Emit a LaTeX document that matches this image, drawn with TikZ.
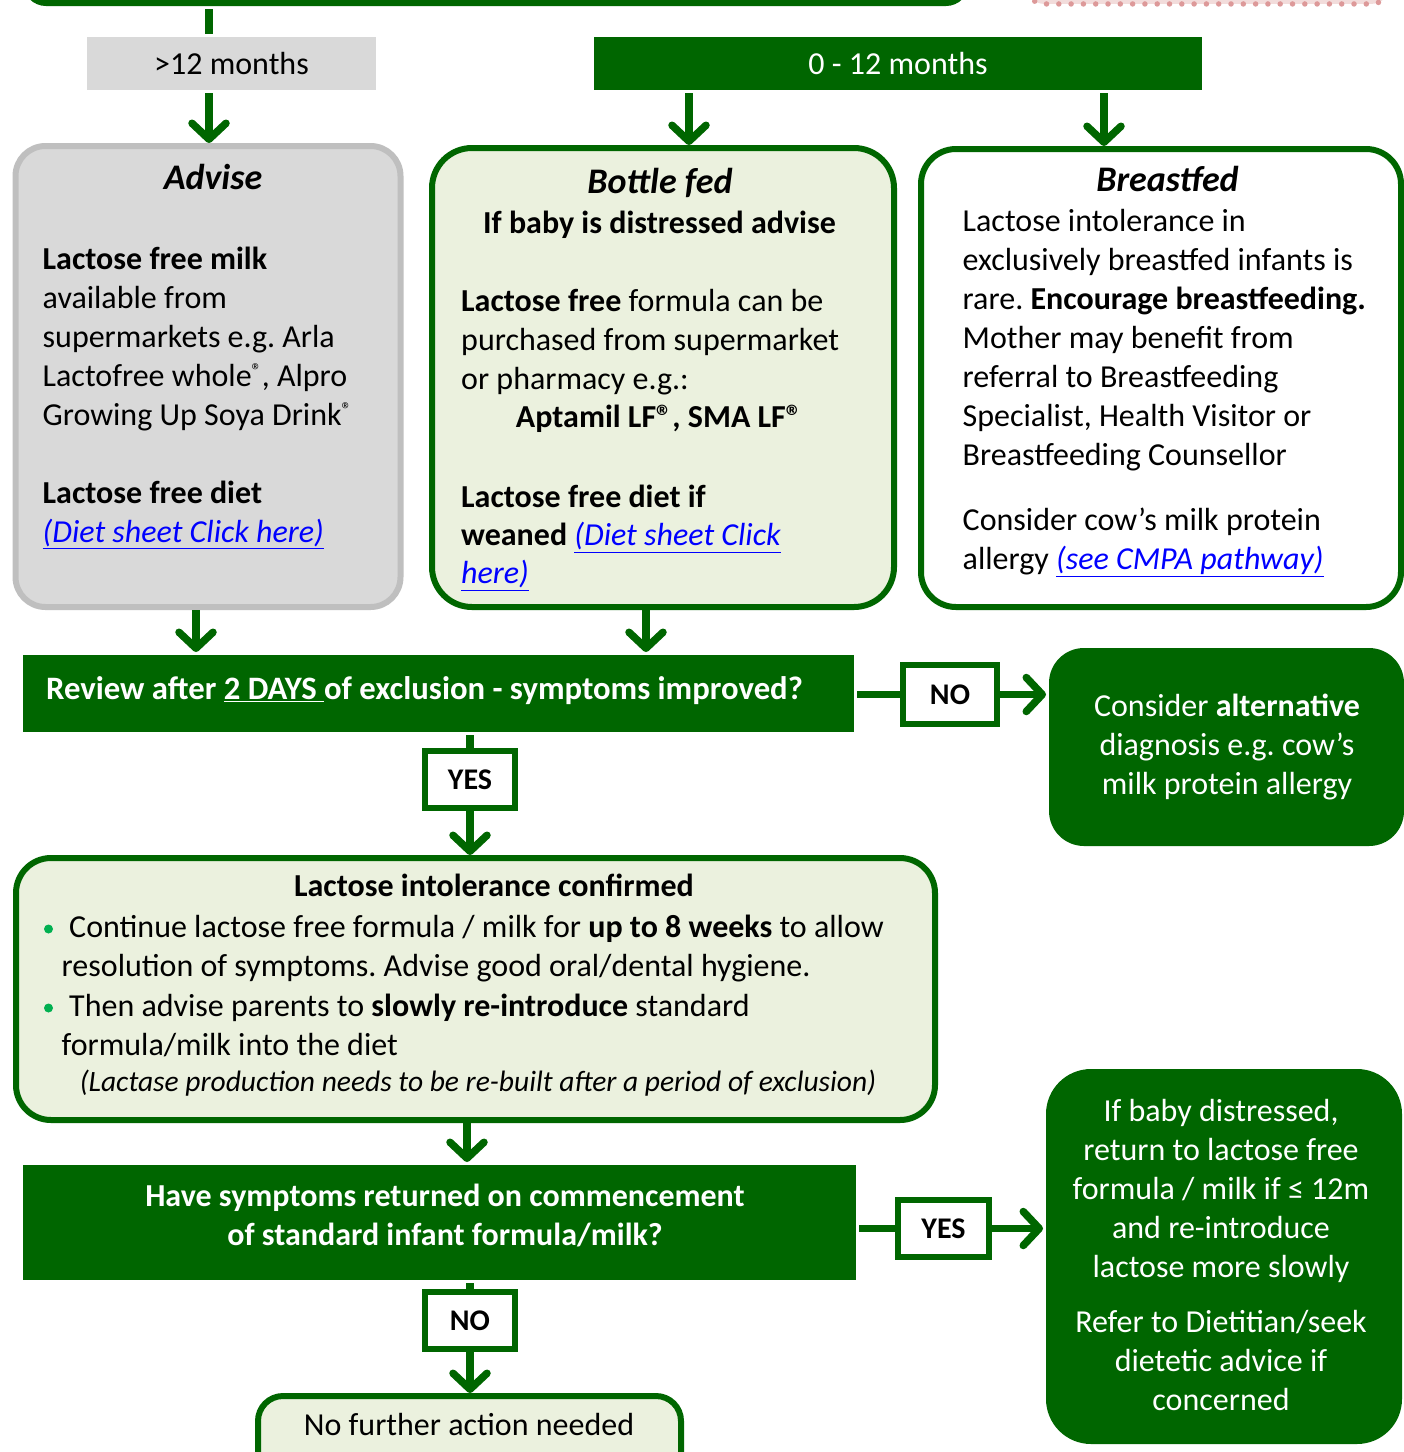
\documentclass[tikz,border=0pt]{standalone}
\usepackage{fontspec}
\setmainfont{Carlito}
\usetikzlibrary{arrows.meta}
\definecolor{dg}{HTML}{006600}
\definecolor{lg}{HTML}{EBF1DE}
\definecolor{gf}{HTML}{D9D9D9}
\definecolor{gb}{HTML}{BFBFBF}
\definecolor{lk}{HTML}{0000FF}
\definecolor{bul}{HTML}{00B050}
\definecolor{pk}{HTML}{F2DCDB}
\definecolor{pkd}{HTML}{DD9999}
\newcommand\fh{\rule{0pt}{0.9em}}
\newcommand\lnk[1]{{\color{lk}\underline{\itshape #1}}}
\newcommand\rgs{\raisebox{9pt}{\fontsize{20}{20}\selectfont ®}}
\newcommand\rga{®}
\newcommand\fsz[2]{\fontsize{#1}{#2}\selectfont}
\frenchspacing
\tikzset{
  ln/.style={draw=dg, line width=7.5pt},
  arr/.style={ln, -{Straight Barb[length=16pt,width=34pt,round]}},
  bx/.style={anchor=north west, inner sep=0pt, line width=6pt},
  lbl/.style={bx, draw=dg, fill=white, font=\fsz{30}{36}\bfseries},
  tx/.style={inner sep=0pt, anchor=north west, align=left},
  tc/.style={inner sep=0pt, anchor=north, align=center},
  tb/.style={inner sep=0pt, anchor=base},
  body/.style={font=\fsz{32}{39}},
  ttl/.style={tb, font=\fsz{36}{44}\bfseries\itshape},
}
\begin{document}
\frenchspacing
\begin{tikzpicture}[x=1pt,y=-1pt]
\clip (0,0) rectangle (1404,1452);
\fill[white] (0,0) rectangle (1404,1452);
% top partial shapes
\node[bx, fill=dg, rounded corners=23pt, minimum width=946pt, minimum height=80pt, anchor=south west] (top) at (20,9) {};
\node[bx, fill=pk, draw=pkd, line width=5.5pt, dash pattern=on 0pt off 12.3pt, line cap=round, rounded corners=20pt, minimum width=366pt, minimum height=80pt, anchor=south west] (pink) at (1022,6.7) {};
% age boxes
\node[bx, fill=gf, minimum width=289pt, minimum height=53pt, font=\fsz{32}{38}] (m12) at (84,34) {>12 months};
\node[bx, fill=dg, text=white, minimum width=608pt, minimum height=53pt, font=\fsz{32}{38}] (m0) at (591,34) {0 - 12 months};
% three boxes
\node[bx, draw=gb, fill=gf, rounded corners=30pt, minimum width=385pt, minimum height=461pt] (adv) at (12.5,143) {};
\node[bx, draw=dg, fill=lg, rounded corners=40pt, minimum width=462pt, minimum height=459pt] (bot) at (429,145) {};
\node[bx, draw=dg, fill=white, rounded corners=35pt, minimum width=480pt, minimum height=458pt] (brf) at (918,146) {};
% review
\node[bx, fill=dg, minimum width=831pt, minimum height=77pt] (rev) at (20,652) {};
\node[lbl, minimum width=94pt, minimum height=59pt] (no1) at (900,662) {NO};
\node[bx, fill=dg, rounded corners=35pt, minimum width=355pt, minimum height=198pt] (alt) at (1046,645) {};
\node[lbl, minimum width=90pt, minimum height=57pt] (yes1) at (422,748) {YES};
% confirmed
\node[bx, draw=dg, fill=lg, rounded corners=35pt, minimum width=919pt, minimum height=262pt] (conf) at (13,855) {};
% have symptoms
\node[bx, fill=dg, minimum width=833pt, minimum height=115pt] (have) at (20,1162) {};
\node[lbl, minimum width=91pt, minimum height=57pt] (yes2) at (895,1197) {YES};
\node[bx, fill=dg, rounded corners=45pt, minimum width=356pt, minimum height=375pt] (rgt) at (1043,1066) {};
\node[lbl, minimum width=90pt, minimum height=57pt] (no2) at (422,1289) {NO};
\node[bx, draw=dg, fill=lg, rounded corners=25pt, minimum width=423pt, minimum height=100pt] (nfa) at (255,1393) {};
% connector x positions
\coordinate (xa) at (209,0);
\coordinate (xb) at (689,0);
\coordinate (xc) at (1104,0);
\coordinate (xd) at (196,0);
\coordinate (xe) at (646,0);
\coordinate (xf) at (467,0);
\draw[ln] (top.south -| xa) -- (m12.north -| xa);
\draw[arr] (m12.south -| xa) -- (adv.north -| xa);
\draw[arr] (m0.south -| xb) -- (bot.north -| xb);
\draw[arr] (m0.south -| xc) -- (brf.north -| xc);
\draw[arr] (adv.south -| xd) -- (rev.north -| xd);
\draw[arr] (bot.south -| xe) -- (rev.north -| xe);
\draw[ln] (no1.west -| rev.east) -- (no1.west);
\draw[arr] (no1.east) -- (no1.east -| alt.west);
\draw[ln] (rev.south -| yes1.north) -- (yes1.north);
\draw[arr] (yes1.south) -- (yes1.south |- conf.north);
\draw[arr] (conf.south -| xf) -- (have.north -| xf);
\draw[ln] (yes2.west -| have.east) -- (yes2.west);
\draw[arr] (yes2.east) -- (yes2.east -| rgt.west);
\draw[ln] (have.south -| no2.north) -- (no2.north);
\draw[arr] (no2.south) -- (no2.south |- nfa.north);
% texts: Advise
\node[ttl] (advT) at (213,189.3) {Advise};
\node[tx, body] (advB) at (42.5,240.5) {\fh\textbf{Lactose free milk}\\
available from\\
supermarkets e.g. Arla\\
Lactofree whole\rgs, Alpro\\
Growing Up Soya Drink\rgs\\[39pt]
\textbf{Lactose free diet}\\
\lnk{(Diet sheet Click here)}};
% Bottle fed
\node[ttl] (botT) at (660,193.3) {Bottle fed};
\node[tb, font=\fsz{32}{38}\bfseries] (botS) at (659.5,233.3) {If baby is distressed advise};
\node[tx, body] (botB1) at (461,282.9) {\fh\textbf{Lactose free} formula can be\\
purchased from supermarket\\
or pharmacy e.g.:};
\node[tb, font=\fsz{32}{39}\bfseries] (botA) at (659,427.7) {Aptamil LF\rga, SMA LF\rga};
\node[tx, font=\fsz{32}{38}] (botB2) at (461,478.9) {\fh\textbf{Lactose free diet if}\\
\textbf{weaned} \lnk{(Diet sheet Click}\\
\lnk{here)}};
% Breastfed
\node[ttl] (brfT) at (1167.5,191.7) {Breastfed};
\node[tx, body] (brfB) at (962.5,202.9) {\fh Lactose intolerance in\\
exclusively breastfed infants is\\
rare. \textbf{Encourage breastfeeding.}\\
Mother may benefit from\\
referral to Breastfeeding\\
Specialist, Health Visitor or\\
Breastfeeding Counsellor\\[26pt]
Consider cow’s milk protein\\
allergy \lnk{(see CMPA pathway)}};
% Review
\node[inner sep=0pt, anchor=base west, text=white, font=\fsz{32.7}{38}\bfseries] (revT) at (46,699.3) {Review after \underline{2 DAYS\ }of exclusion - symptoms improved?};
\node[tc, body, text=white] (altT) at (1227,687.9) {\fh Consider \textbf{alternative}\\
diagnosis e.g. cow’s\\
milk protein allergy};
% Confirmed
\node[tb, font=\fsz{32}{38}\bfseries] (confT) at (494,896.7) {Lactose intolerance confirmed};
\node[circle, fill=bul, minimum size=9pt, inner sep=0pt] (bl1) at (48.5,929) {};
\node[circle, fill=bul, minimum size=9pt, inner sep=0pt] (bl2) at (48.5,1008) {};
\node[tx, font=\fsz{32}{39.3}] (confB) at (61.5,908.5) {\fh\hspace*{7.5pt}Continue lactose free formula / milk for \textbf{up to 8 weeks} to allow\\
resolution of symptoms. Advise good oral/dental hygiene.\\
\hspace*{7.5pt}Then advise parents to \textbf{slowly re-introduce} standard\\
formula/milk into the diet};
\node[tb, font=\fsz{29.5}{35}\itshape] (confN) at (478,1091.7) {(Lactase production needs to be re-built after a period of exclusion)};
% Have symptoms
\node[tc, font=\fsz{32}{38.3}\bfseries, text=white] (haveT) at (445,1177.9) {\fh Have symptoms returned on commencement\\
of standard infant formula/milk?};
\node[tc, body, text=white] (rgtT) at (1221,1092.2) {\fh If baby distressed,\\
return to lactose free\\
formula / milk if ≤ 12m\\
and re-introduce\\
lactose more slowly\\[16pt]
Refer to Dietitian/seek\\
dietetic advice if\\
concerned};
\node[tb, body] (nfaT) at (469,1435) {No further action needed};
\end{tikzpicture}
\end{document}
